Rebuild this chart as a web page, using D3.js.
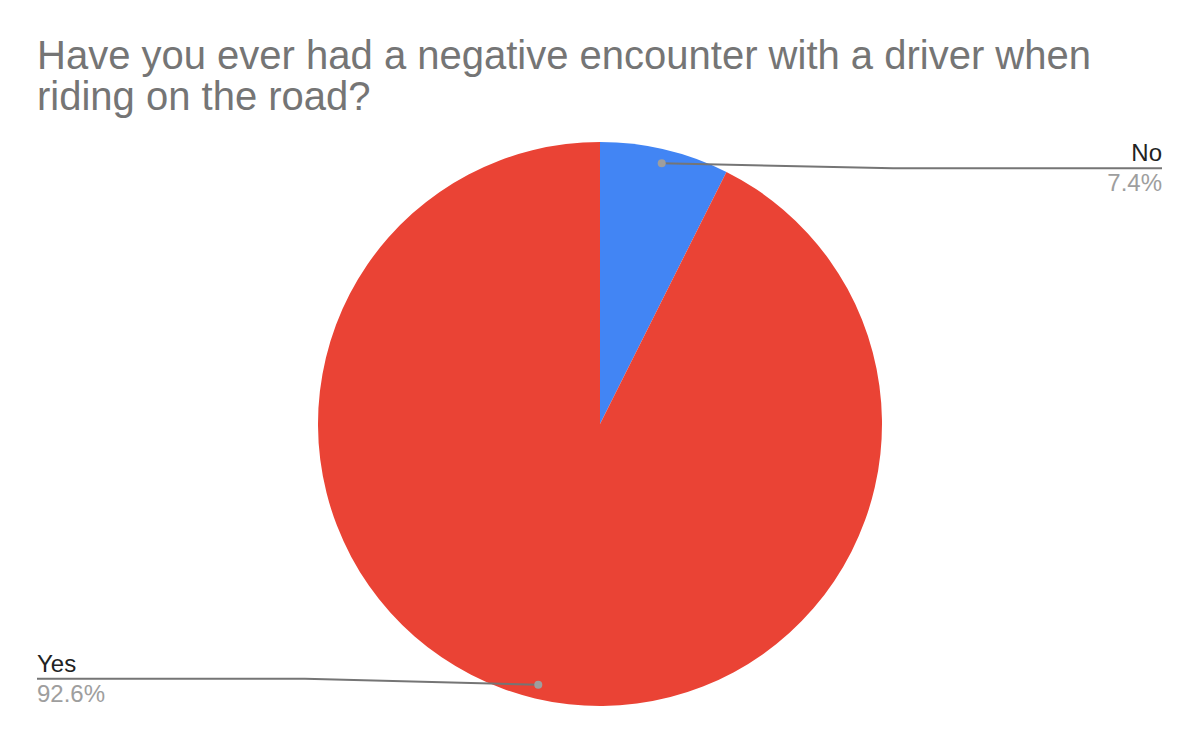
<!DOCTYPE html>
<html>
<head>
<meta charset="utf-8">
<script src="https://cdn.jsdelivr.net/npm/d3@7"></script>
<style>
  html, body { margin: 0; padding: 0; background: #fff; }
  text { font-family: "Liberation Sans", Arial, sans-serif; }
</style>
</head>
<body>
<div id="chart"></div>
<script>
const categories = ["No", "Yes"];
const shares = [7.4, 92.6];
const colors = ["#4285f4", "#ea4335"];
const titleLines = [
  "Have you ever had a negative encounter with a driver when",
  "riding on the road?",
];

const width = 1200,
  height = 742;
const cx = 600,
  cy = 424,
  radius = 282;

const svg = d3
  .select("#chart")
  .append("svg")
  .attr("width", width)
  .attr("height", height);

svg
  .selectAll(".title")
  .data(titleLines)
  .enter()
  .append("text")
  .attr("class", "title")
  .attr("x", 37)
  .attr("y", (d, i) => 69 + i * 41)
  .style("font-size", "40px")
  .style("fill", "#757575")
  .text((d) => d);

const data = categories.map((c, i) => ({ name: c, value: shares[i], color: colors[i] }));

const pie = d3.pie().sort(null).value((d) => d.value);
const arcs = pie(data);

const arc = d3.arc().innerRadius(0).outerRadius(radius);
const dotArc = d3.arc().innerRadius(radius * 0.95).outerRadius(radius * 0.95);

const g = svg.append("g").attr("transform", `translate(${cx},${cy})`);

g.selectAll(".slice")
  .data(arcs)
  .enter()
  .append("path")
  .attr("class", "slice")
  .attr("d", arc)
  .style("fill", (d) => d.data.color);

// label layout: right side for slices on the right half, left otherwise
const labelPos = arcs.map((d) => {
  const mid = (d.startAngle + d.endAngle) / 2;
  const right = Math.sin(mid) > 0;
  const [px, py] = dotArc.centroid(d);
  const lineY = right ? py + 5 : py - 6;
  return {
    d,
    right,
    px: px + cx,
    py: py + cy,
    lineY: lineY + cy,
    elbowX: right ? 893 : 305,
    endX: right ? 1162 : 37,
  };
});

svg
  .selectAll(".leader")
  .data(labelPos)
  .enter()
  .append("polyline")
  .attr("class", "leader")
  .attr("points", (p) => `${p.px},${p.py} ${p.elbowX},${p.lineY} ${p.endX},${p.lineY}`)
  .style("fill", "none")
  .style("stroke", "#757575")
  .style("stroke-width", 2);

svg
  .selectAll(".dot")
  .data(labelPos)
  .enter()
  .append("circle")
  .attr("class", "dot")
  .attr("cx", (p) => p.px)
  .attr("cy", (p) => p.py)
  .attr("r", 4)
  .style("fill", "#9e9e9e");

svg
  .selectAll(".label")
  .data(labelPos)
  .enter()
  .append("text")
  .attr("class", "label")
  .attr("x", (p) => p.endX)
  .attr("y", (p) => p.lineY - 7)
  .attr("text-anchor", (p) => (p.right ? "end" : "start"))
  .style("font-size", "24px")
  .style("fill", "#222222")
  .text((p) => p.d.data.name);

svg
  .selectAll(".pct")
  .data(labelPos)
  .enter()
  .append("text")
  .attr("class", "pct")
  .attr("x", (p) => p.endX)
  .attr("y", (p) => p.lineY + 23)
  .attr("text-anchor", (p) => (p.right ? "end" : "start"))
  .style("font-size", "24px")
  .style("fill", "#9e9e9e")
  .text((p) => d3.format(".1f")(p.d.data.value) + "%");
</script>
</body>
</html>
